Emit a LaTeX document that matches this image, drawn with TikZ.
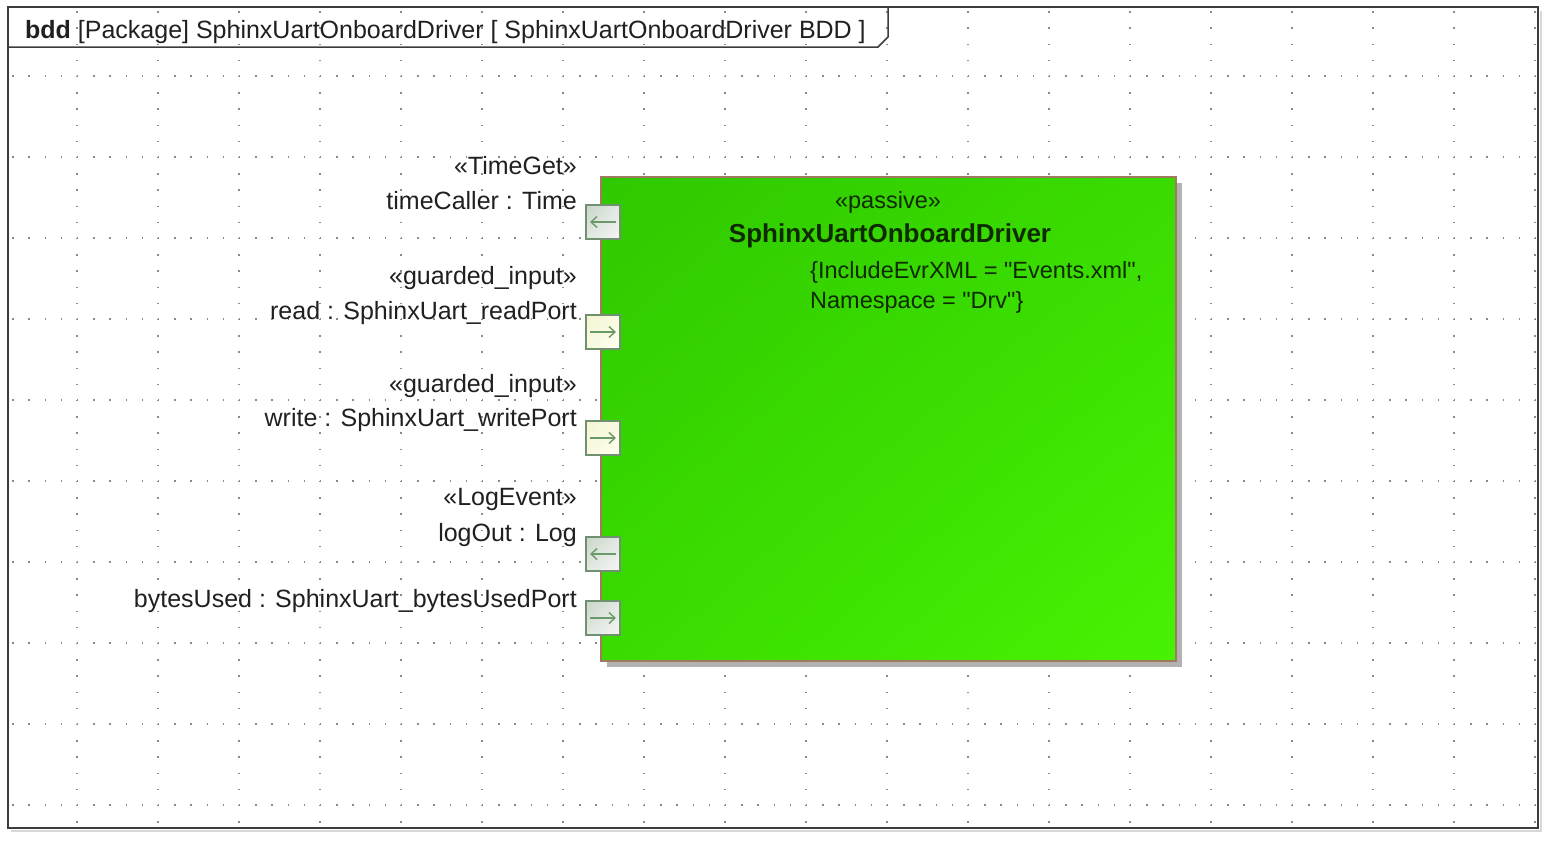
\documentclass[tikz,border=0pt]{standalone}
\usepackage{fontspec}
\setmainfont{Liberation Sans}[Ligatures=TeXOff]
\usetikzlibrary{arrows.meta,shadows,shadings}
\definecolor{gridc}{HTML}{8A8A8A}
\definecolor{framec}{HTML}{3C3C3C}
\definecolor{frameshadow}{HTML}{D8D8D8}
\definecolor{blockborder}{HTML}{A07A5C}
\definecolor{portborder}{HTML}{6F916F}
\definecolor{arrowc}{HTML}{6A9A6A}
\definecolor{textc}{HTML}{202020}
\definecolor{blocktext}{HTML}{0E2A00}
\definecolor{portUL}{HTML}{C9D6C9}
\definecolor{portM}{HTML}{E2E8E2}
\definecolor{portLR}{HTML}{F6F6F6}
\definecolor{yelUL}{HTML}{F4F4D2}
\definecolor{yelM}{HTML}{FAFAE2}
\definecolor{yelLR}{HTML}{FFFFF2}
\definecolor{bUL}{HTML}{2FC800}
\definecolor{bM}{HTML}{3ADC00}
\definecolor{bLR}{HTML}{48F204}
\tikzset{
  gridline/.style={gridc, line width=1.4pt, dash pattern=on 1.4pt off 14.8pt},
  lbl/.style={anchor=base east, inner sep=0pt, text=textc, font=\fontsize{25}{29}\selectfont},
  blocklbl/.style={inner sep=0pt, text=blocktext, font=\fontsize{23.5}{28}\selectfont},
  blockbox/.style={draw=blockborder, line width=1.5pt, minimum width=575pt, minimum height=484pt,
    upper left=bUL, upper right=bM, lower left=bM, lower right=bLR, inner sep=0pt,
    drop shadow={shadow xshift=6pt, shadow yshift=-6pt, fill=black!30, opacity=1}},
  portgray/.style={draw=portborder, line width=2pt, minimum size=34pt, inner sep=0pt,
    upper left=portUL, upper right=portM, lower left=portM, lower right=portLR},
  portyel/.style={draw=portborder, line width=2pt, minimum size=34pt, inner sep=0pt,
    upper left=yelUL, upper right=yelM, lower left=yelM, lower right=yelLR},
  portarrow/.style={arrowc, line width=1.4pt, -{Straight Barb[length=6pt,width=11pt]}}
}
\begin{document}
\begin{tikzpicture}[x=1pt,y=-1pt]
\useasboundingbox (0,0) rectangle (1551,846);
\fill[white] (0,0) rectangle (1551,846);
% grid
\begin{scope}
\clip (9,8) rectangle (1537,827);
\foreach \k in {1,...,10} {
  \draw[gridline] (-4,{-5+81*\k}) -- (1551,{-5+81*\k});
}
\foreach \k in {1,...,19} {
  \draw[gridline] ({-4+81*\k},-5) -- ({-4+81*\k},846);
}
\end{scope}
% frame
\draw[frameshadow, line width=2.5pt] (1541,11) -- (1541,831) -- (11,831);
\draw[framec, line width=2pt] (8,7) rectangle (1538,828);
\draw[framec, line width=1.5pt] (8,47) -- (878,47) -- (888,37) -- (888,7);
\node[anchor=base west, inner sep=0pt, text=textc, font=\fontsize{25}{29}\selectfont] (title) at (25,38)
  {\textbf{bdd} [Package] SphinxUartOnboardDriver [ SphinxUartOnboardDriver BDD ]};
% block
\node[blockbox] (block) at (888.5,419) {};
\node[blocklbl, anchor=base] (stereo) at (888,208) {«passive»};
\node[blocklbl, anchor=base, font=\fontsize{26}{30}\selectfont\bfseries] (bname) at (890,242) {SphinxUartOnboardDriver};
\node[blocklbl, anchor=base west] (tag1) at (810,278) {\{IncludeEvrXML = "Events.xml",};
\node[blocklbl, anchor=base west] (tag2) at (810,308) {Namespace = "Drv"\}};
% ports
\node[portgray] (p1) at (603,222) {};
\node[portyel] (p2) at (603,332) {};
\node[portyel] (p3) at (603,438) {};
\node[portgray] (p4) at (603,554) {};
\node[portgray] (p5) at (603,618) {};
\draw[portarrow] ([xshift=-5pt]p1.east) -- ([xshift=5pt]p1.west);
\draw[portarrow] ([xshift=5pt]p2.west) -- ([xshift=-5pt]p2.east);
\draw[portarrow] ([xshift=5pt]p3.west) -- ([xshift=-5pt]p3.east);
\draw[portarrow] ([xshift=-5pt]p4.east) -- ([xshift=5pt]p4.west);
\draw[portarrow] ([xshift=5pt]p5.west) -- ([xshift=-5pt]p5.east);
% port labels
\node[lbl] (s1) at (577,174) {«TimeGet»};
\node[lbl] (n1) at (577,209) {timeCaller : Time};
\node[lbl] (s2) at (577,284) {«guarded\_input»};
\node[lbl] (n2) at (577,319) {read : SphinxUart\_readPort};
\node[lbl] (s3) at (577,392) {«guarded\_input»};
\node[lbl] (n3) at (577,426) {write : SphinxUart\_writePort};
\node[lbl] (s4) at (577,505) {«LogEvent»};
\node[lbl] (n4) at (577,541) {logOut : Log};
\node[lbl] (n5) at (577,607) {bytesUsed : SphinxUart\_bytesUsedPort};
\end{tikzpicture}
\end{document}
